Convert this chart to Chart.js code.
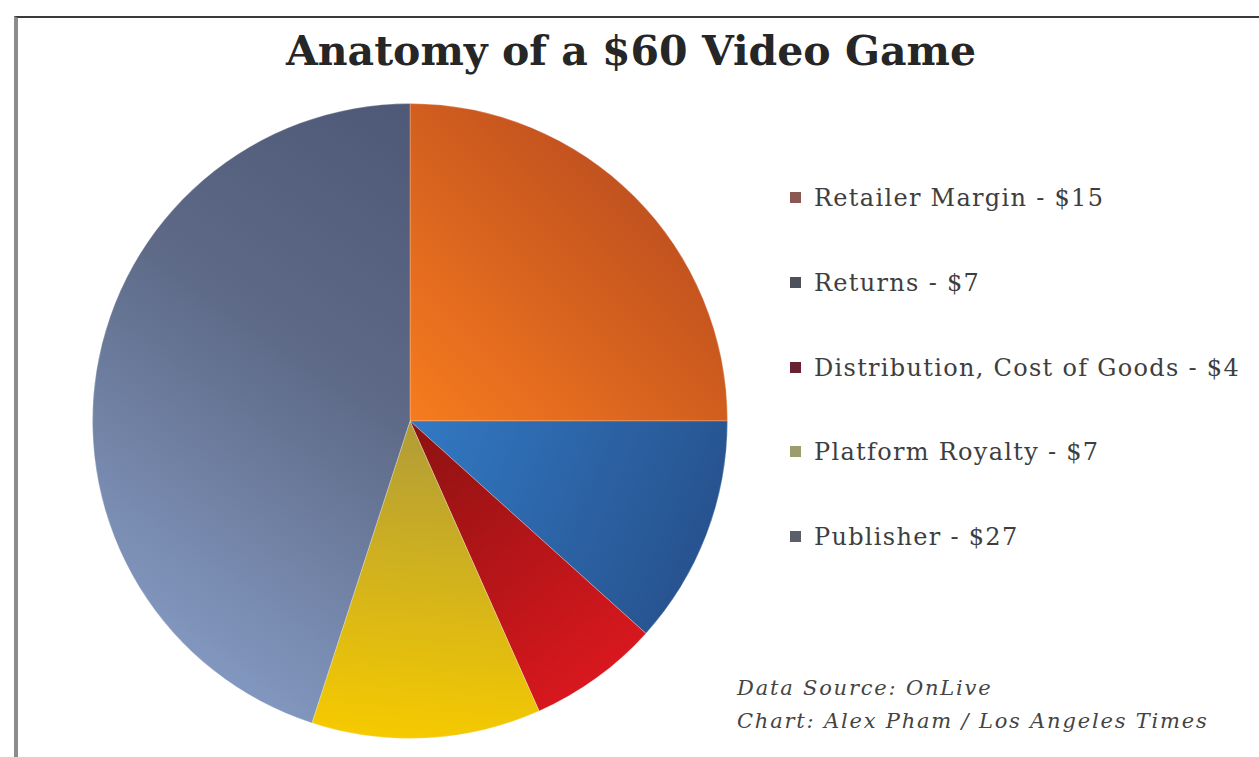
<!DOCTYPE html>
<html>
<head>
<meta charset="utf-8">
<title>Anatomy of a $60 Video Game</title>
<script src="https://cdn.jsdelivr.net/npm/chart.js@4/dist/chart.umd.min.js"></script>
<style>
    body { margin: 0; background: #fff; width: 1259px; height: 757px; overflow: hidden; position: relative; font-family: "DejaVu Serif", "Liberation Serif", serif; }
    #frame { position: absolute; left: 14px; top: 16px; right: 0; bottom: 0; border-top: 2px solid #3a3a3a; border-left: 4px solid #8c8c8c; }
    #title { position: absolute; left: 0; width: 1262px; top: 27px; line-height: 48px; text-align: center; font-size: 41px; font-weight: bold; color: #262626; }
    #pie-wrap { position: absolute; left: 92px; top: 103px; width: 636px; height: 636px; }
    #legend { position: absolute; left: 790px; top: 184px; margin: 0; padding: 0; list-style: none; }
    #legend li { font-size: 24px; line-height: 28px; height: 28px; margin-bottom: 56.75px; color: #3e3e3e; letter-spacing: 1.3px; white-space: nowrap; }
    #legend .box { display: inline-block; width: 11px; height: 11px; margin-right: 13px; vertical-align: 3px; }
    #source { position: absolute; left: 737px; top: 672px; font-size: 21px; line-height: 33px; font-style: italic; letter-spacing: 1.8px; color: #444; }
</style>
</head>
<body>
<div id="frame"></div>
<div id="title">Anatomy of a $60 Video Game</div>
<div id="pie-wrap"><canvas id="myChart"></canvas></div>
<ul id="legend"></ul>
<div id="source">Data Source: OnLive<br>Chart: Alex Pham / Los Angeles Times</div>

<script>
// Chart data
const categories = ['Retailer Margin', 'Returns', 'Distribution, Cost of Goods', 'Platform Royalty', 'Publisher'];
const dollars = [15, 7, 4, 7, 27];

// Colours: flat fallback, gradient inner/outer stops, legend swatches
const flatColors = ['#e8702a', '#2e6cb5', '#c0161c', '#e0bc10', '#5c6a88'];
const innerColors = ['#f77c1e', '#3279c4', '#8c1212', '#b09c38', '#4a5574'];
const outerColors = ['#c2521f', '#27538f', '#d8181e', '#f6ca00', '#8297bf'];
const gradAngles = [45, 112, 144, 185, 215]; // direction of each slice's gradient, degrees clockwise from 12 o'clock
const swatchColors = ['#8a5850', '#4c515c', '#6a2232', '#9c9c6c', '#5a5f6a'];

function sliceGradient(context) {
    const chart = context.chart;
    const area = chart.chartArea;
    const i = context.dataIndex;
    if (!area) {
        return flatColors[i];
    }
    const cx = (area.left + area.right) / 2;
    const cy = (area.top + area.bottom) / 2;
    const r = Math.min(area.right - area.left, area.bottom - area.top) / 2;
    const a = gradAngles[i] * Math.PI / 180;
    const dx = Math.sin(a) * r;
    const dy = -Math.cos(a) * r;

    let g;
    if (i === 4) {
        // publisher slice runs dark at top to light at bottom left
        g = chart.ctx.createLinearGradient(cx - dx, cy - dy, cx + dx, cy + dy);
        g.addColorStop(0, innerColors[i]);
        g.addColorStop(0.5, '#5d6986');
        g.addColorStop(1, outerColors[i]);
    } else {
        g = chart.ctx.createLinearGradient(cx, cy, cx + dx, cy + dy);
        g.addColorStop(0, innerColors[i]);
        g.addColorStop(1, outerColors[i]);
    }
    return g;
}

function createLegend() {
    const container = document.getElementById('legend');
    container.innerHTML = '';

    categories.forEach((label, index) => {
        const li = document.createElement('li');
        const box = document.createElement('span');
        box.className = 'box';
        box.style.background = swatchColors[index];
        li.appendChild(box);
        li.appendChild(document.createTextNode(label + ' - $' + dollars[index]));
        container.appendChild(li);
    });
}

function createChart() {
    const ctx = document.getElementById('myChart').getContext('2d');

    new Chart(ctx, {
        type: 'pie',
        data: {
            labels: categories,
            datasets: [{
                data: dollars,
                backgroundColor: sliceGradient,
                borderColor: 'rgba(255,255,255,0.25)',
                borderWidth: 1
            }]
        },
        options: {
            responsive: true,
            maintainAspectRatio: false,
            animation: false,
            layout: { padding: 0 },
            plugins: {
                legend: { display: false },
                title: { display: false },
                tooltip: { enabled: false }
            }
        }
    });
}

createLegend();
createChart();
</script>
</body>
</html>
